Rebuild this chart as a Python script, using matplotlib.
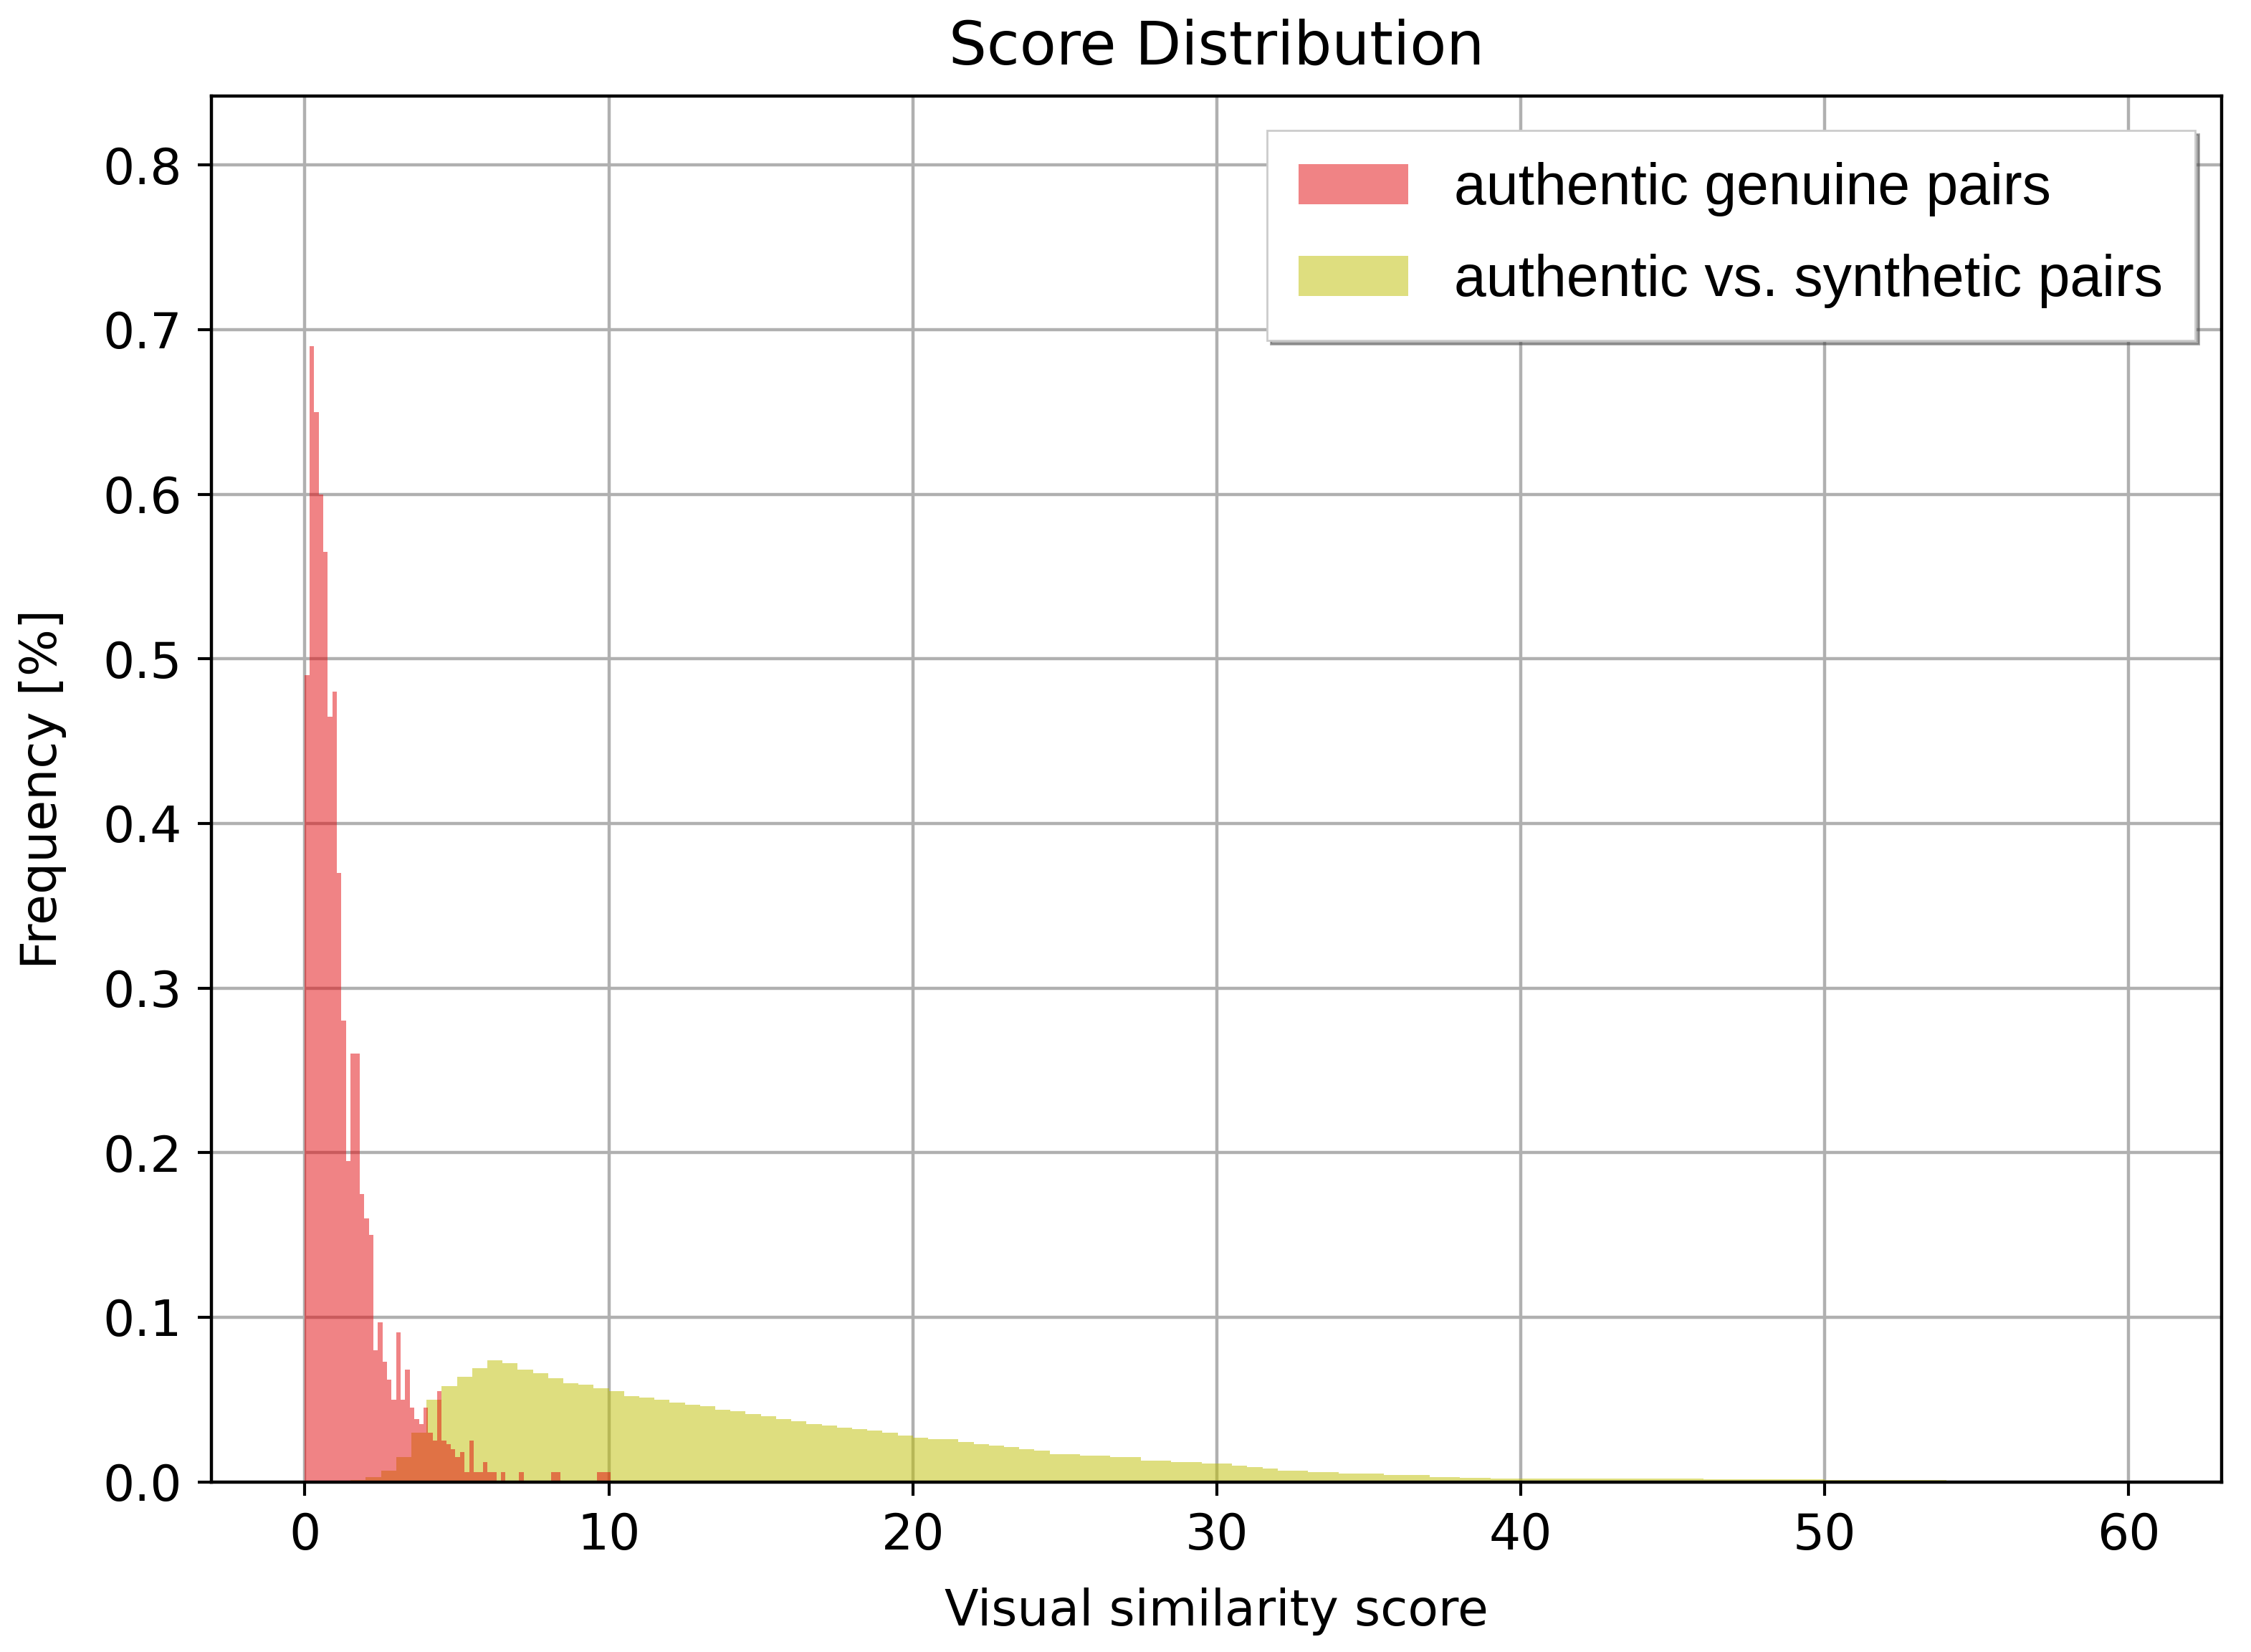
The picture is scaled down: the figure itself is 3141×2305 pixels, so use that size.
import numpy as np
import matplotlib.pyplot as plt

# authentic genuine pairs: bins of width 0.15 starting at 0
red_width = 0.15
red_vals = [0.49, 0.69, 0.65, 0.60, 0.565, 0.465, 0.48, 0.37, 0.28, 0.195,
            0.26, 0.26, 0.175, 0.16, 0.15, 0.08, 0.097, 0.073, 0.062, 0.05,
            0.091, 0.05, 0.068, 0.045, 0.038, 0.035, 0.045, 0.03, 0.025, 0.055,
            0.025, 0.023, 0.02, 0.015, 0.018, 0.006, 0.025, 0.006, 0.006, 0.012,
            0.006, 0.006, 0.0, 0.006, 0.0, 0.0, 0.0, 0.006, 0.0, 0.0,
            0.0, 0.0, 0.0, 0.0, 0.006, 0.006, 0.0, 0.0, 0.0, 0.0,
            0.0, 0.0, 0.0, 0.0, 0.006, 0.006, 0.006]

# authentic vs. synthetic pairs: bins of width 0.5 starting at 1.5
yel_width = 0.5
yel_start = 1.5
yel_vals = [0.001, 0.003, 0.007, 0.015, 0.03, 0.05, 0.058, 0.064, 0.069, 0.074,
            0.072, 0.068, 0.066, 0.063, 0.060, 0.059, 0.057, 0.055, 0.052, 0.051,
            0.050, 0.048, 0.047, 0.046, 0.044, 0.043, 0.041, 0.040, 0.038, 0.037,
            0.035, 0.034, 0.033, 0.032, 0.031, 0.030, 0.028, 0.027, 0.026, 0.026,
            0.024, 0.023, 0.022, 0.021, 0.020, 0.019, 0.017, 0.017, 0.016, 0.016,
            0.015, 0.015, 0.013, 0.013, 0.012, 0.012, 0.011, 0.011, 0.010, 0.009,
            0.008, 0.007, 0.007, 0.006, 0.006, 0.005, 0.005, 0.005, 0.004, 0.004,
            0.004, 0.003, 0.003,
            0.0024, 0.0024, 0.0022, 0.0022, 0.0022, 0.0022, 0.0022, 0.0022,
            0.0022, 0.0022, 0.0022, 0.0020, 0.0020, 0.0020, 0.0020, 0.0020,
            0.0016, 0.0016, 0.0016, 0.0016, 0.0016, 0.0016, 0.0016, 0.0016,
            0.0011, 0.0011, 0.0011, 0.0011, 0.0011, 0.0011, 0.0011, 0.0011]

red_x = np.arange(len(red_vals)) * red_width
yel_x = yel_start + np.arange(len(yel_vals)) * yel_width

fig = plt.figure(figsize=(15.705, 11.525), dpi=200)
ax = fig.add_axes([0.094, 0.103, 0.893, 0.839])
ax.bar(yel_x, yel_vals, width=yel_width, align='edge', color='#bfbf00', alpha=0.5,
       linewidth=0, label='authentic vs. synthetic pairs')
ax.bar(red_x, red_vals, width=red_width, align='edge', color='#e2080c', alpha=0.5,
       linewidth=0, label='authentic genuine pairs')

ax.set_xlim(-3.07, 63.06)
ax.set_ylim(0, 0.842)
ax.set_yticks(np.arange(0, 0.81, 0.1))
ax.set_xticks(np.arange(0, 61, 10))
ax.grid(True, color='#b0b0b0', linewidth=1.6)
ax.set_axisbelow(True)
ax.tick_params(labelsize=25, length=7, width=1.5, pad=8)
for s in ax.spines.values():
    s.set_linewidth(1.6)
ax.set_title('Score Distribution', fontsize=30, pad=16)
ax.set_xlabel('Visual similarity score', fontsize=25, labelpad=14)
ax.set_ylabel('Frequency [%]', fontsize=25, labelpad=18)

h, l = ax.get_legend_handles_labels()
ax.legend(h[::-1], l[::-1], loc='upper right', shadow=True, fancybox=False,
          prop={'family': 'Liberation Sans', 'size': 29}, handlelength=1.9,
          borderpad=0.55, labelspacing=0.65, bbox_to_anchor=(1.001, 0.996))

fig.savefig('out.png')
